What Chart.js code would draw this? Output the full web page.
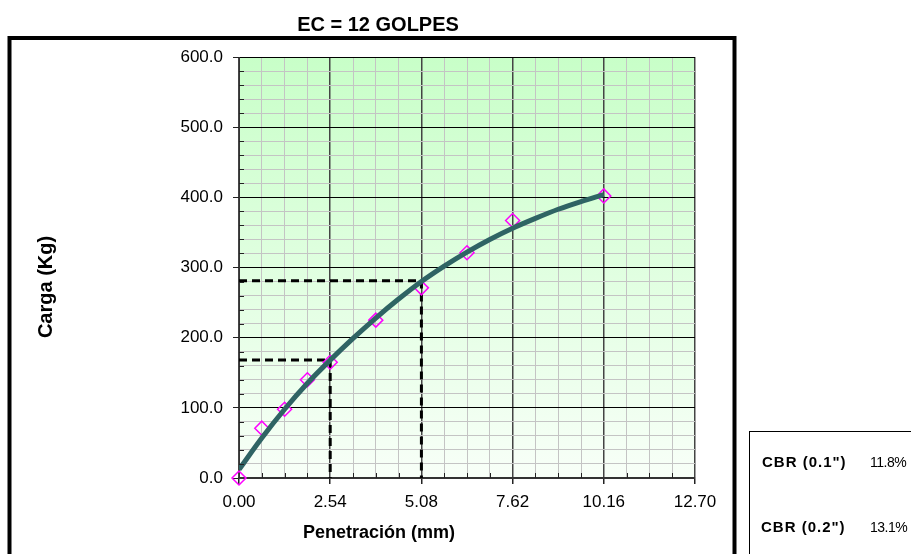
<!DOCTYPE html>
<html>
<head>
<meta charset="utf-8">
<script src="https://cdn.jsdelivr.net/npm/chart.js@4/dist/chart.umd.min.js"></script>
<style>
  body { margin: 0; background: #fff; }
</style>
</head>
<body>
<canvas id="cbr" width="911" height="554"></canvas>
<script>
// measured points (mm, kg)
const penetration = [0, 0.635, 1.27, 1.905, 2.54, 3.81, 5.08, 6.35, 7.62, 10.16];
const load = [0, 71, 98, 140, 165, 225, 271, 321, 367, 402];

// trend curve
const curveX = [0, 0.635, 1.27, 1.905, 2.54, 3.175, 3.81, 4.445, 5.08, 5.715, 6.35, 6.985, 7.62, 8.255, 8.89, 9.525, 10.16];
const curveY = [12, 57, 98, 135, 168, 199, 228, 255, 280, 302, 322, 340, 356, 370, 383, 394, 404];

// corrected loads at 0.1" and 0.2"
const cbrPen = [2.54, 5.08];
const cbrLoad = [168, 281];
const cbrLabels = ['CBR (0.1")', 'CBR (0.2")'];
const cbrValues = ['11.8%', '13.1%'];

const xMajorTicks = [0, 2.54, 5.08, 7.62, 10.16, 12.70];
const yMajorTicks = [0, 100, 200, 300, 400, 500, 600];

const chartTitle = 'EC = 12 GOLPES';
const xTitle = 'Penetración (mm)';
const yTitle = 'Carga (Kg)';

const FONT = '"Liberation Sans", Arial, sans-serif';

// minor ticks: 4 per x major, 5 per y major
function subdivide(majors, n) {
    const out = [];
    for (let i = 0; i < majors.length - 1; i++) {
        for (let k = 0; k < n; k++) {
            out.push(majors[i] + (majors[i + 1] - majors[i]) * k / n);
        }
    }
    out.push(majors[majors.length - 1]);
    return out;
}
const xTicks = subdivide(xMajorTicks, 4);
const yTicks = subdivide(yMajorTicks, 5);

const dashSets = cbrPen.map((p, i) => ({
    data: [{ x: 0, y: cbrLoad[i] }, { x: p, y: cbrLoad[i] }, { x: p, y: 0 }],
    showLine: true,
    borderColor: '#000',
    borderWidth: 3,
    borderDash: [8, 5],
    pointRadius: 0,
    order: 3,
}));

const decorations = {
    id: 'decorations',
    beforeDraw(chart) {
        const { ctx, chartArea: a } = chart;
        const g = ctx.createLinearGradient(0, a.top, 0, a.bottom);
        g.addColorStop(0, '#C8FFC8');
        g.addColorStop(1, '#F8FFF8');
        ctx.save();
        ctx.fillStyle = g;
        ctx.fillRect(a.left, a.top, a.right - a.left, a.bottom - a.top);
        ctx.restore();
    },
    afterDraw(chart) {
        const { ctx, chartArea: a, scales } = chart;
        ctx.save();
        // inner minor ticks
        ctx.strokeStyle = '#222';
        ctx.lineWidth = 1;
        ctx.beginPath();
        yTicks.forEach((v, i) => {
            if (i % 5 === 0) return;
            const y = Math.round(scales.y.getPixelForValue(v)) + 0.5;
            ctx.moveTo(a.left, y);
            ctx.lineTo(a.left + 5, y);
        });
        xTicks.forEach((v, i) => {
            if (i % 4 === 0) return;
            const x = Math.round(scales.x.getPixelForValue(v)) + 0.5;
            ctx.moveTo(x, a.bottom);
            ctx.lineTo(x, a.bottom - 5);
        });
        ctx.stroke();

        // outer frame
        ctx.strokeStyle = '#000';
        ctx.lineWidth = 4;
        ctx.strokeRect(9.5, 38, 725, 540);

        // titles
        ctx.fillStyle = '#000';
        ctx.textAlign = 'center';
        ctx.textBaseline = 'middle';
        ctx.font = 'bold 20px ' + FONT;
        ctx.fillText(chartTitle, 378, 25);
        ctx.font = 'bold 18px ' + FONT;
        ctx.fillText(xTitle, 379, 533);
        ctx.save();
        ctx.translate(46, 287);
        ctx.rotate(-Math.PI / 2);
        ctx.font = 'bold 20px ' + FONT;
        ctx.fillText(yTitle, 0, 0);
        ctx.restore();

        // CBR box
        ctx.lineWidth = 1;
        ctx.strokeRect(749.5, 431.5, 200, 200);
        ctx.textAlign = 'left';
        ctx.font = 'bold 15px ' + FONT;
        ctx.letterSpacing = '1px';
        ctx.fillText(cbrLabels[0], 762, 463);
        ctx.fillText(cbrLabels[1], 761, 528);
        ctx.letterSpacing = '-0.5px';
        ctx.font = '14px ' + FONT;
        ctx.fillText(cbrValues[0], 870, 463);
        ctx.fillText(cbrValues[1], 870, 528);
        ctx.restore();
    },
};

new Chart(document.getElementById('cbr'), {
    type: 'scatter',
    data: {
        datasets: [
            {
                data: curveX.map((x, i) => ({ x: x, y: curveY[i] })),
                showLine: true,
                borderColor: '#2F6464',
                borderWidth: 5,
                pointRadius: 0,
                cubicInterpolationMode: 'monotone',
                order: 1,
            },
            {
                data: penetration.map((x, i) => ({ x: x, y: load[i] })),
                pointStyle: 'rectRot',
                pointRadius: 7,
                pointBorderWidth: 1.5,
                pointBorderColor: '#FF00FF',
                pointBackgroundColor: 'rgba(0,0,0,0)',
                clip: false,
                order: 2,
            },
            ...dashSets,
        ],
    },
    options: {
        responsive: false,
        animation: false,
        layout: { padding: { left: 0, top: 57, right: 216, bottom: 0 } },
        plugins: { legend: { display: false }, tooltip: { enabled: false } },
        scales: {
            x: {
                type: 'linear',
                min: 0,
                max: 12.7,
                afterBuildTicks: (s) => { s.ticks = xTicks.map(v => ({ value: v })); },
                afterFit: (s) => { s.height = 76; },
                grid: {
                    color: (c) => c.index % 4 === 0 ? '#444' : '#C4C4C4',
                    lineWidth: (c) => c.index % 4 === 0 ? 1.5 : 1,
                    tickColor: (c) => c.index % 4 === 0 ? '#222' : 'rgba(0,0,0,0)',
                    tickLength: 6,
                },
                border: { color: '#333', width: 2 },
                ticks: {
                    autoSkip: false,
                    maxRotation: 0,
                    padding: 8,
                    color: '#000',
                    font: { family: FONT, size: 17 },
                    callback: (v, i) => i % 4 === 0 ? v.toFixed(2) : '',
                },
            },
            y: {
                min: 0,
                max: 600,
                afterBuildTicks: (s) => { s.ticks = yTicks.map(v => ({ value: v })); },
                afterFit: (s) => { s.width = 239; },
                grid: {
                    color: (c) => c.index % 5 === 0 ? '#000' : '#C4C4C4',
                    tickColor: (c) => c.index % 5 === 0 ? '#222' : 'rgba(0,0,0,0)',
                    tickLength: 6,
                },
                border: { color: '#333', width: 1 },
                ticks: {
                    autoSkip: false,
                    padding: 10,
                    color: '#000',
                    font: { family: FONT, size: 17 },
                    callback: (v, i) => i % 5 === 0 ? v.toFixed(1) : '',
                },
            },
        },
    },
    plugins: [decorations],
});
</script>
</body>
</html>
